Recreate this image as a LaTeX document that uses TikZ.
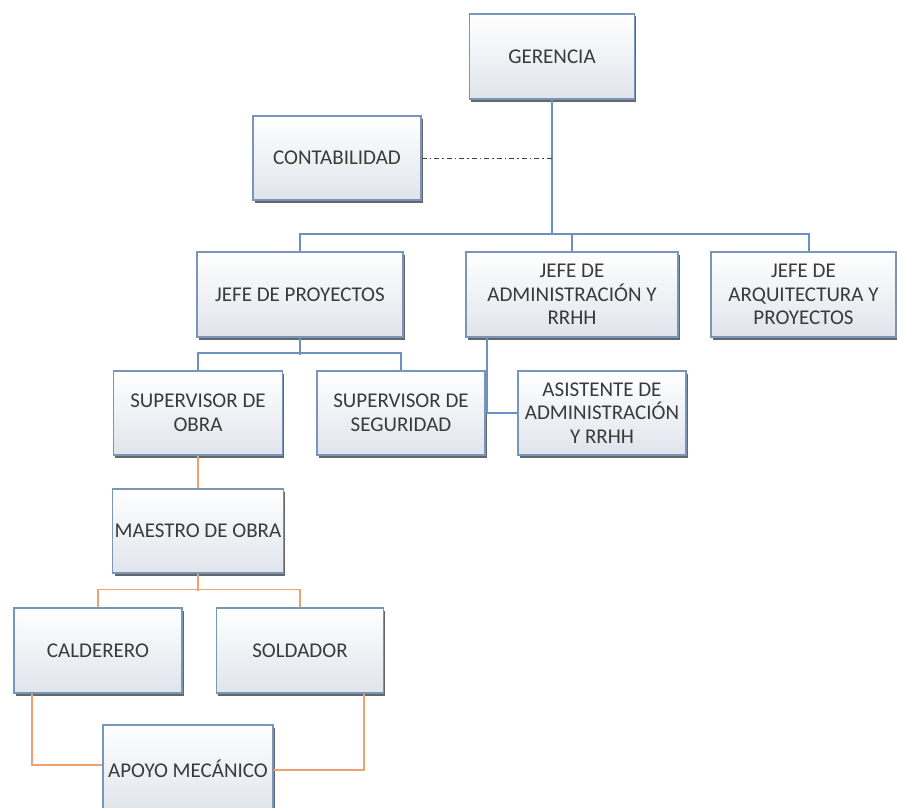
\documentclass[tikz,border=0pt]{standalone}
\usepackage{fontspec}
\setmainfont{Carlito}
\usetikzlibrary{shadows}
\definecolor{bordercol}{RGB}{120,150,186}
\definecolor{boxbot}{RGB}{224,228,235}
\definecolor{textgray}{RGB}{58,58,58}
\definecolor{lineblue}{RGB}{108,145,192}
\definecolor{lineorange}{RGB}{238,160,112}
\begin{document}
\begin{tikzpicture}[x=1pt,y=-1pt,
  box/.style={draw=bordercol, line width=1.1pt, top color=white, bottom color=boxbot,
    drop shadow={shadow xshift=1.8pt, shadow yshift=-2.5pt, fill=black!70, opacity=0.85},
    inner sep=2pt, align=center, text=textgray,
    font=\fontsize{21}{23.5}\selectfont},
  blueline/.style={draw=lineblue, line width=2pt},
  orangeline/.style={draw=lineorange, line width=1.8pt},
  dotline/.style={draw=black!75, line width=1pt, dash pattern=on 5pt off 3pt on 1.5pt off 3pt}]
\fill[white] (0,0) rectangle (897,808);
\useasboundingbox (0,0) rectangle (897,808);

\coordinate (bus) at (552,234);

% nodes
\node[box, minimum width=165pt, minimum height=85pt] (ger) at (552,56.5) {GERENCIA};
\node[box, minimum width=168pt, minimum height=84pt] (cont) at (337,158) {CONTABILIDAD};
\node[box, minimum width=206pt, minimum height=85pt] (jp) at (300,294.5) {JEFE DE PROYECTOS};
\node[box, minimum width=212pt, minimum height=85pt] (ja) at (572,294.5) {JEFE DE\\ADMINISTRACIÓN Y\\RRHH};
\node[box, minimum width=185pt, minimum height=85pt] (jarq) at (803.5,294.5) {JEFE DE\\ARQUITECTURA Y\\PROYECTOS};
\node[box, minimum width=169pt, minimum height=84pt] (so) at (198,413) {SUPERVISOR DE\\OBRA};
\node[box, minimum width=168pt, minimum height=84pt] (ss) at (401,413) {SUPERVISOR DE\\SEGURIDAD};
\node[box, minimum width=168pt, minimum height=84pt] (as) at (602,413) {ASISTENTE DE\\ADMINISTRACIÓN\\Y RRHH};
\node[box, minimum width=169pt, minimum height=84pt] (ms) at (198,531) {MAESTRO DE OBRA};
\node[box, minimum width=168pt, minimum height=85pt] (cal) at (98,650.5) {CALDERERO};
\node[box, minimum width=167pt, minimum height=85pt] (sol) at (300,650.5) {SOLDADOR};
\node[box, minimum width=170pt, minimum height=87pt] (apo) at (188,768.5) {APOYO MECÁNICO};

% connectors
\draw[blueline] (ger.south) -- (ger.south |- bus);
\draw[dotline] (cont.east) -- (cont.east -| ger.south);
\draw[blueline] (jp.north) -- (jp.north |- bus) -- ([xshift=5.5pt]jarq.north |- bus) -- ([xshift=5.5pt]jarq.north);
\draw[blueline] (ja.north) -- (ja.north |- bus);
\draw[blueline] (jp.south) -- ++(0,17);
\draw[blueline] (so.north) -- ++(0,-17) -| (ss.north);
\draw[blueline] ([xshift=-85pt]ja.south) |- (as.west);

\draw[orangeline] (so.south) -- (ms.north);
\draw[orangeline] (ms.south) -- ++(0,17);
\draw[orangeline] (cal.north) -- ++(0,-18) -| (sol.north);
\draw[orangeline] ([xshift=-66pt]cal.south) |- ([yshift=3.5pt]apo.west);
\draw[orangeline] ([xshift=64pt]sol.south) |- ([yshift=-1.5pt]apo.east);
\end{tikzpicture}
\end{document}
